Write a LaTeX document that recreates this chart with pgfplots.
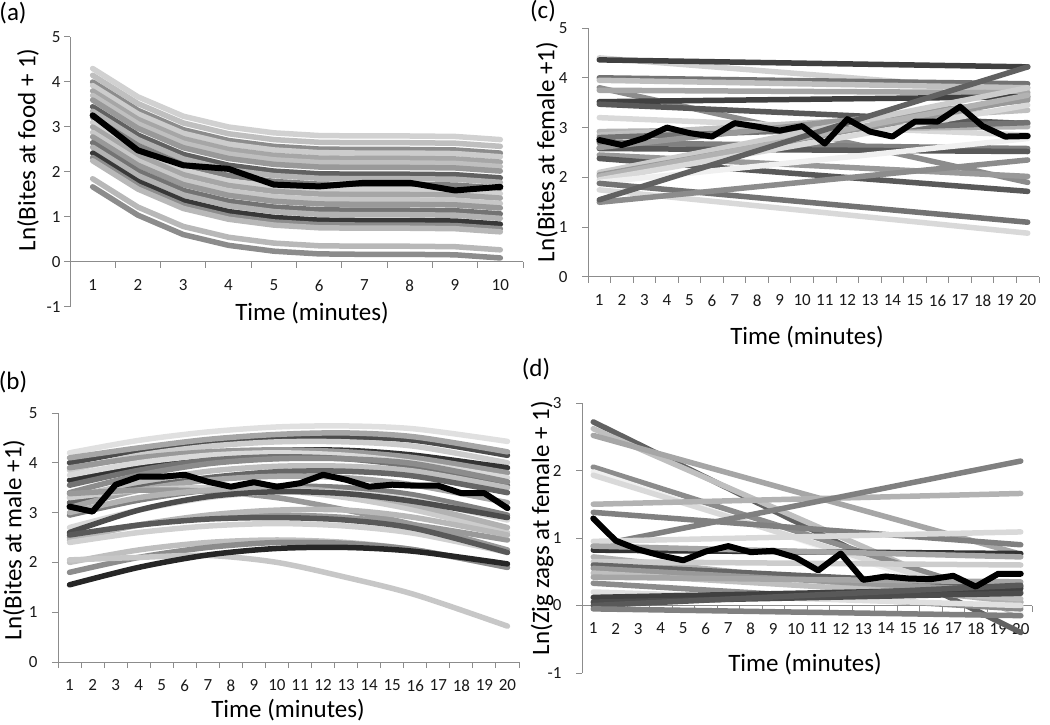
\documentclass[border=0pt]{standalone}
\usepackage{fontspec}
\setmainfont{Carlito}
\usepackage{pgfplots}
\pgfplotsset{compat=1.18}
\newcommand{\labfont}{\fontsize{25}{28}\selectfont}
\newcommand{\tickfont}{\fontsize{17}{19}\selectfont}
\pgfplotsset{
  panel/.style={
    scale only axis, anchor=south west,
    axis x line*=middle, axis y line*=left,
    axis line style={draw=black!45, line width=1pt},
    tick style={draw=black!45, line width=1pt},
    tick align=outside,
    major tick length=6pt, minor tick length=6pt,
    major x tick style={draw=none},
    ticklabel style={font=\tickfont, text=black!90},
    xticklabel shift=8pt,
    /pgf/number format/assume math mode=true,
    every axis plot/.append style={line width=5.5pt, line cap=round, line join=round},
  },
  p20/.style={panel, xmin=0.5, xmax=20.5, xtick={1,...,20}, minor xtick={0.5,1.5,...,20.5},
    yticklabel shift=11pt},
  bl/.style={draw=black, line width=6pt},
}
\begin{document}
\begin{tikzpicture}[x=1pt,y=1pt]
\useasboundingbox (0,0) rectangle (1050,724);
% ---------------- (a)
\begin{axis}[panel, at={(70pt,417pt)}, width=453pt, height=270pt,
  xmin=0.5, xmax=10.5, ymin=-1, ymax=5, xtick={1,...,10}, minor xtick={0.5,1.5,...,10.5}, ytick={-1,0,...,5}]
\addplot[draw=black!18] coordinates {(1,4.30)(2,3.67)(3,3.24)(4,3.00)(5,2.87)(6,2.81)(7,2.80)(8,2.80)(9,2.79)(10,2.72)};
\addplot[draw=black!25] coordinates {(1,4.15)(2,3.52)(3,3.09)(4,2.85)(5,2.72)(6,2.66)(7,2.65)(8,2.65)(9,2.64)(10,2.57)};
\addplot[draw=black!45] coordinates {(1,4.00)(2,3.37)(3,2.94)(4,2.70)(5,2.57)(6,2.51)(7,2.50)(8,2.50)(9,2.49)(10,2.42)};
\addplot[draw=black!20] coordinates {(1,3.92)(2,3.29)(3,2.86)(4,2.62)(5,2.49)(6,2.43)(7,2.42)(8,2.42)(9,2.41)(10,2.34)};
\addplot[draw=black!35] coordinates {(1,3.80)(2,3.17)(3,2.74)(4,2.50)(5,2.37)(6,2.31)(7,2.30)(8,2.30)(9,2.29)(10,2.22)};
\addplot[draw=black!25] coordinates {(1,3.70)(2,3.07)(3,2.64)(4,2.40)(5,2.27)(6,2.21)(7,2.20)(8,2.20)(9,2.19)(10,2.12)};
\addplot[draw=black!40] coordinates {(1,3.60)(2,2.97)(3,2.54)(4,2.30)(5,2.17)(6,2.11)(7,2.10)(8,2.10)(9,2.09)(10,2.02)};
\addplot[draw=black!62] coordinates {(1,3.45)(2,2.82)(3,2.39)(4,2.15)(5,2.02)(6,1.96)(7,1.95)(8,1.95)(9,1.94)(10,1.87)};
\addplot[draw=black!30] coordinates {(1,3.35)(2,2.72)(3,2.29)(4,2.05)(5,1.92)(6,1.86)(7,1.85)(8,1.85)(9,1.84)(10,1.77)};
\addplot[draw=black!50] coordinates {(1,3.22)(2,2.59)(3,2.16)(4,1.92)(5,1.79)(6,1.73)(7,1.72)(8,1.72)(9,1.71)(10,1.64)};
\addplot[draw=black!18] coordinates {(1,3.10)(2,2.47)(3,2.04)(4,1.80)(5,1.67)(6,1.61)(7,1.60)(8,1.60)(9,1.59)(10,1.52)};
\addplot[draw=black!35] coordinates {(1,3.00)(2,2.37)(3,1.94)(4,1.70)(5,1.57)(6,1.51)(7,1.50)(8,1.50)(9,1.49)(10,1.42)};
\addplot[draw=black!22] coordinates {(1,2.88)(2,2.25)(3,1.82)(4,1.58)(5,1.45)(6,1.39)(7,1.38)(8,1.38)(9,1.37)(10,1.30)};
\addplot[draw=black!40] coordinates {(1,2.78)(2,2.15)(3,1.72)(4,1.48)(5,1.35)(6,1.29)(7,1.28)(8,1.28)(9,1.27)(10,1.20)};
\addplot[draw=black!55] coordinates {(1,2.65)(2,2.02)(3,1.59)(4,1.35)(5,1.22)(6,1.16)(7,1.15)(8,1.15)(9,1.14)(10,1.07)};
\addplot[draw=black!30] coordinates {(1,2.55)(2,1.92)(3,1.49)(4,1.25)(5,1.12)(6,1.06)(7,1.05)(8,1.05)(9,1.04)(10,0.97)};
\addplot[draw=black!78] coordinates {(1,2.42)(2,1.79)(3,1.36)(4,1.12)(5,0.99)(6,0.93)(7,0.92)(8,0.92)(9,0.91)(10,0.84)};
\addplot[draw=black!45] coordinates {(1,2.32)(2,1.69)(3,1.26)(4,1.02)(5,0.89)(6,0.83)(7,0.82)(8,0.82)(9,0.81)(10,0.74)};
\addplot[draw=black!28] coordinates {(1,2.25)(2,1.62)(3,1.19)(4,0.95)(5,0.82)(6,0.76)(7,0.75)(8,0.75)(9,0.74)(10,0.67)};
\addplot[draw=black!28] coordinates {(1,1.85)(2,1.22)(3,0.79)(4,0.55)(5,0.42)(6,0.36)(7,0.35)(8,0.35)(9,0.34)(10,0.27)};
\addplot[draw=black!45] coordinates {(1,1.67)(2,1.04)(3,0.61)(4,0.37)(5,0.24)(6,0.18)(7,0.17)(8,0.17)(9,0.16)(10,0.09)};
\addplot[bl] coordinates {(1,3.26)(2,2.48)(3,2.15)(4,2.07)(5,1.72)(6,1.68)(7,1.76)(8,1.76)(9,1.59)(10,1.67)};
\end{axis}
% ---------------- (b)
\begin{axis}[p20, at={(58pt,62pt)}, width=461pt, height=249pt, ymin=0, ymax=5, ytick={0,...,5}]
\addplot[smooth, draw=black!12] coordinates {(1,4.20)(4,4.45)(7,4.62)(10,4.72)(13,4.74)(16,4.68)(20,4.43)};
\addplot[smooth, draw=black!70] coordinates {(1,4.00)(4,4.25)(7,4.43)(10,4.52)(13,4.52)(16,4.45)(20,4.15)};
\addplot[smooth, draw=black!35] coordinates {(1,4.10)(4,4.30)(7,4.47)(10,4.57)(13,4.60)(16,4.52)(20,4.22)};
\addplot[smooth, draw=black!20] coordinates {(1,3.85)(4,4.15)(7,4.33)(10,4.42)(13,4.42)(16,4.33)(20,4.00)};
\addplot[smooth, draw=black!80] coordinates {(1,3.65)(4,3.95)(7,4.15)(10,4.25)(13,4.25)(16,4.15)(20,3.90)};
\addplot[smooth, draw=black!40] coordinates {(1,3.90)(4,4.10)(7,4.22)(10,4.26)(13,4.22)(16,4.10)(20,3.80)};
\addplot[smooth, draw=black!15] coordinates {(1,3.75)(4,4.00)(7,4.15)(10,4.20)(13,4.15)(16,4.00)(20,3.70)};
\addplot[smooth, draw=black!55] coordinates {(1,3.55)(4,3.85)(7,4.05)(10,4.12)(13,4.08)(16,3.92)(20,3.55)};
\addplot[smooth, draw=black!45] coordinates {(1,3.40)(4,3.75)(7,3.98)(10,4.08)(13,4.08)(16,3.98)(20,3.62)};
\addplot[smooth, draw=black!25] coordinates {(1,3.30)(4,3.60)(7,3.83)(10,3.93)(13,3.93)(16,3.83)(20,3.50)};
\addplot[smooth, draw=black!60] coordinates {(1,3.20)(4,3.50)(7,3.70)(10,3.82)(13,3.83)(16,3.73)(20,3.40)};
\addplot[smooth, draw=black!35] coordinates {(1,3.10)(4,3.45)(7,3.65)(10,3.73)(13,3.70)(16,3.55)(20,3.20)};
\addplot[smooth, draw=black!50] coordinates {(1,2.95)(4,3.25)(7,3.45)(10,3.53)(13,3.50)(16,3.35)(20,2.95)};
\addplot[smooth, draw=black!20] coordinates {(1,3.30)(4,3.45)(7,3.50)(10,3.45)(13,3.30)(16,3.05)(20,2.60)};
\addplot[smooth, draw=black!40] coordinates {(1,3.38)(4,3.45)(7,3.43)(10,3.30)(13,3.05)(16,2.75)(20,2.25)};
\addplot[smooth, draw=black!30] coordinates {(1,3.00)(4,3.30)(7,3.45)(10,3.50)(13,3.40)(16,3.15)(20,2.70)};
\addplot[smooth, draw=black!15] coordinates {(1,2.70)(4,3.05)(7,3.30)(10,3.42)(13,3.40)(16,3.25)(20,2.85)};
\addplot[smooth, draw=black!70] coordinates {(1,2.60)(4,3.05)(7,3.32)(10,3.42)(13,3.38)(16,3.22)(20,2.90)};
\addplot[smooth, draw=black!40] coordinates {(1,2.50)(4,2.75)(7,2.90)(10,2.95)(13,2.90)(16,2.75)(20,2.45)};
\addplot[smooth, draw=black!28] coordinates {(1,2.45)(4,2.75)(7,2.95)(10,3.05)(13,3.05)(16,2.90)(20,2.55)};
\addplot[smooth, draw=black!18] coordinates {(1,2.40)(4,2.60)(7,2.73)(10,2.78)(13,2.73)(16,2.58)(20,2.20)};
\addplot[smooth, draw=black!65] coordinates {(1,2.55)(4,2.75)(7,2.87)(10,2.90)(13,2.85)(16,2.68)(20,2.20)};
\addplot[smooth, draw=black!25] coordinates {(1,2.00)(4,2.25)(7,2.40)(10,2.45)(13,2.40)(16,2.25)(20,1.90)};
\addplot[smooth, draw=black!45] coordinates {(1,1.80)(4,2.10)(7,2.30)(10,2.40)(13,2.38)(16,2.25)(20,1.90)};
\addplot[smooth, draw=black!22] coordinates {(1,2.05)(4,2.10)(7,2.14)(10,2.00)(13,1.70)(16,1.35)(20,0.72)};
\addplot[smooth, draw=black!85] coordinates {(1,1.55)(4,1.90)(7,2.15)(10,2.28)(13,2.30)(16,2.22)(20,1.97)};
\addplot[bl] coordinates {(1,3.12)(2,3.02)(3,3.56)(4,3.72)(5,3.72)(6,3.76)(7,3.62)(8,3.52)(9,3.61)(10,3.52)(11,3.59)(12,3.76)(13,3.66)(14,3.52)(15,3.56)(16,3.54)(17,3.54)(18,3.39)(19,3.39)(20,3.09)};
\end{axis}
% ---------------- (c)
\begin{axis}[p20, at={(588pt,447pt)}, width=451pt, height=249pt, ymin=0, ymax=5, ytick={0,...,5}]
\addplot[draw=black!18] coordinates {(1,4.40)(20,3.72)};
\addplot[draw=black!75] coordinates {(1,4.36)(20,4.22)};
\addplot[draw=black!55] coordinates {(1,4.00)(20,3.88)};
\addplot[draw=black!25] coordinates {(1,3.95)(20,3.80)};
\addplot[draw=black!45] coordinates {(1,3.80)(20,1.90)};
\addplot[draw=black!35] coordinates {(1,3.75)(20,3.70)};
\addplot[draw=black!75] coordinates {(1,3.52)(20,3.62)};
\addplot[draw=black!65] coordinates {(1,3.47)(20,3.08)};
\addplot[draw=black!15] coordinates {(1,3.20)(20,2.85)};
\addplot[draw=black!30] coordinates {(1,2.92)(20,3.02)};
\addplot[draw=black!25] coordinates {(1,2.85)(20,3.35)};
\addplot[draw=black!55] coordinates {(1,2.80)(20,3.10)};
\addplot[draw=black!50] coordinates {(1,2.70)(20,2.58)};
\addplot[draw=black!65] coordinates {(1,2.58)(20,2.52)};
\addplot[draw=black!40] coordinates {(1,2.45)(20,2.02)};
\addplot[draw=black!65] coordinates {(1,2.38)(20,1.72)};
\addplot[draw=black!40] coordinates {(1,2.60)(20,3.55)};
\addplot[draw=black!20] coordinates {(1,2.10)(20,3.80)};
\addplot[draw=black!40] coordinates {(1,2.05)(20,3.58)};
\addplot[draw=black!30] coordinates {(1,2.02)(20,3.65)};
\addplot[draw=black!15] coordinates {(1,1.95)(20,3.45)};
\addplot[draw=black!6] coordinates {(1,1.90)(20,2.78)};
\addplot[draw=black!55] coordinates {(1,1.88)(20,1.10)};
\addplot[draw=black!15] coordinates {(1,1.75)(20,0.88)};
\addplot[draw=black!45] coordinates {(1,1.50)(20,2.35)};
\addplot[draw=black!62] coordinates {(1,1.55)(20,4.22)};
\addplot[bl] coordinates {(1,2.75)(2,2.65)(3,2.79)(4,3.00)(5,2.89)(6,2.82)(7,3.09)(8,3.02)(9,2.94)(10,3.03)(11,2.68)(12,3.17)(13,2.92)(14,2.82)(15,3.12)(16,3.12)(17,3.42)(18,3.03)(19,2.82)(20,2.83)};
\end{axis}
% ---------------- (d)
\begin{axis}[p20, at={(582pt,51pt)}, width=450pt, height=270pt, ymin=-1, ymax=3, ytick={-1,0,...,3}]
\addplot[draw=black!62] coordinates {(1,2.72)(20,-0.40)};
\addplot[draw=black!25] coordinates {(1,2.62)(20,-0.15)};
\addplot[draw=black!35] coordinates {(1,2.52)(20,0.76)};
\addplot[draw=black!45] coordinates {(1,2.05)(20,0.05)};
\addplot[draw=black!6] coordinates {(1,1.98)(20,-0.10)};
\addplot[draw=black!15] coordinates {(1,1.93)(20,-0.02)};
\addplot[draw=black!30] coordinates {(1,1.50)(20,1.66)};
\addplot[draw=black!50] coordinates {(1,1.38)(20,0.90)};
\addplot[draw=black!50] coordinates {(1,0.88)(20,2.14)};
\addplot[draw=black!15] coordinates {(1,0.95)(20,1.09)};
\addplot[draw=black!80] coordinates {(1,0.82)(20,0.77)};
\addplot[draw=black!35] coordinates {(1,0.88)(20,0.72)};
\addplot[draw=black!30] coordinates {(1,0.72)(20,0.05)};
\addplot[draw=black!20] coordinates {(1,0.65)(20,0.60)};
\addplot[draw=black!60] coordinates {(1,0.60)(20,0.28)};
\addplot[draw=black!40] coordinates {(1,0.55)(20,0.20)};
\addplot[draw=black!25] coordinates {(1,0.48)(20,0.10)};
\addplot[draw=black!35] coordinates {(1,0.42)(20,0.35)};
\addplot[draw=black!45] coordinates {(1,0.33)(20,-0.05)};
\addplot[draw=black!12] coordinates {(1,0.20)(20,0.00)};
\addplot[draw=black!75] coordinates {(1,0.12)(20,0.25)};
\addplot[draw=black!70] coordinates {(1,0.05)(20,0.18)};
\addplot[draw=black!65] coordinates {(1,0.00)(20,0.30)};
\addplot[draw=black!50] coordinates {(1,-0.05)(20,-0.15)};
\addplot[bl] coordinates {(1,1.29)(2,0.96)(3,0.83)(4,0.74)(5,0.67)(6,0.80)(7,0.88)(8,0.79)(9,0.81)(10,0.71)(11,0.52)(12,0.77)(13,0.38)(14,0.43)(15,0.40)(16,0.39)(17,0.44)(18,0.28)(19,0.47)(20,0.47)};
\end{axis}
% ---------------- labels
\node[rotate=90, font=\labfont] at (28,574) {Ln(Bites at food + 1)};
\node[font=\labfont] at (312,411) {Time (minutes)};
\node[font=\labfont] at (13,711) {(a)};
\node[rotate=90, font=\labfont] at (547,572) {Ln(Bites at female +1)};
\node[font=\labfont] at (807,387) {Time (minutes)};
\node[font=\labfont] at (543,713) {(c)};
\node[rotate=90, font=\labfont] at (14,184) {Ln(Bites at male +1)};
\node[font=\labfont] at (288,14) {Time (minutes)};
\node[font=\labfont] at (13,342) {(b)};
\node[rotate=90, font=\labfont] at (542,196) {Ln(Zig zags at female + 1)};
\node[font=\labfont] at (805,60) {Time (minutes)};
\node[font=\labfont] at (536,355) {(d)};
\end{tikzpicture}
\end{document}
